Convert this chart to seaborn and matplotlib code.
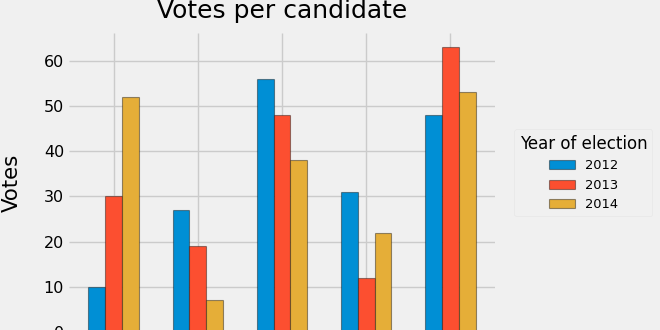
import matplotlib
matplotlib.use("Agg")
import matplotlib.pyplot as plt
import seaborn as sns
import pandas as pd

candidates = ["Candidate A", "Candidate B", "Candidate C", "Candidate D", "Candidate E"]
years = ["2012", "2013", "2014"]
votes_2012 = [10, 27, 56, 31, 48]
votes_2013 = [30, 19, 48, 12, 63]
votes_2014 = [52, 7, 38, 22, 53]
yticks = [0, 10, 20, 30, 40, 50, 60]

rows = []
for yr, vals in zip(years, [votes_2012, votes_2013, votes_2014]):
    for c, v in zip(candidates, vals):
        rows.append({"Candidate": c, "Year": yr, "Votes": v})
df = pd.DataFrame(rows)

plt.style.use("fivethirtyeight")
plt.rcParams["font.family"] = ["DejaVu Sans"]

fig = plt.figure(figsize=(6.6, 3.3), dpi=100, facecolor="#f0f0f0")
ax = fig.add_axes([0.1045, -0.006, 0.6455, 0.906])
ax.set_facecolor("#f0f0f0")

palette = ["#008fd5", "#fc4f30", "#e5ae38"]
sns.barplot(data=df, x="Candidate", y="Votes", hue="Year", hue_order=years,
            palette=palette, width=0.6, edgecolor=(0, 0, 0, 0.4), linewidth=0.8,
            saturation=1, ax=ax, legend=True)

ax.set_xlim(-0.53, 4.53)
ax.set_ylim(0, 66.15)
ax.set_yticks(yticks)
ax.tick_params(axis="y", labelsize=11.5, pad=3.5, length=0)
ax.tick_params(axis="x", length=0, labelbottom=False)
ax.grid(True, color="#cbcbcb", linewidth=1.0)
ax.set_axisbelow(True)
for s in ax.spines.values():
    s.set_visible(False)

ax.set_xlabel("")
ax.set_ylabel("Votes", fontsize=15.3)
ax.yaxis.set_label_coords(-0.110, 0.5)
ax.set_title("Votes per candidate", fontsize=18, pad=11)

leg = ax.legend(title="Year of election", loc="center",
                bbox_to_anchor=(0.884, 0.476), bbox_transform=fig.transFigure,
                fontsize=9.4, title_fontsize=12, frameon=True, fancybox=True)
leg.get_frame().set_facecolor("#f0f0f0")
leg.get_frame().set_edgecolor("#e4e4e4")

fig.savefig("out.png", dpi=100, facecolor="#f0f0f0")
